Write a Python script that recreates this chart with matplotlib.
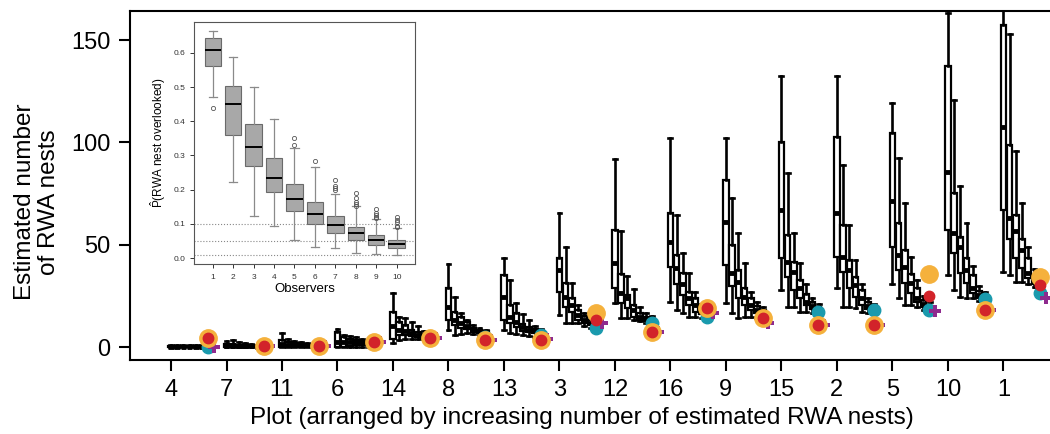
import matplotlib
matplotlib.use("Agg")
import matplotlib.pyplot as plt

plt.rcParams['font.family'] = ['Liberation Sans', 'DejaVu Sans']
plt.rcParams['mathtext.fontset'] = 'custom'
plt.rcParams['mathtext.rm'] = 'Liberation Sans'
plt.rcParams['mathtext.it'] = 'Liberation Sans'

# plots, ordered by increasing number of estimated nests
plot_labels = ['4', '7', '11', '6', '14', '8', '13', '3', '12', '16', '9', '15', '2', '5', '10', '1']

# box statistics for 1..7 observers per plot
box_lo = [
    [0, 0, 0, 0, 0, 0, 0],
    [0, 0, 0, 0, 0, 0, 0],
    [0, 0, 0, 0, 0, 0, 0],
    [0, 0, 0, 0, 0, 0, 0],
    [2, 3.4, 4, 4, 4, 4, 4],
    [8.3, 5.9, 6.3, 6.8, 6.5, 6, 5.5],
    [8.3, 6.8, 6.3, 6, 5.5, 5, 4.5],
    [15.6, 11.6, 11.6, 11.6, 10.5, 9.5, 9],
    [21.3, 14, 14, 13.2, 12.5, 11.5, 11],
    [22, 18, 16.6, 14.8, 14.8, 14, 13.5],
    [21.3, 16.4, 14, 14.8, 14.8, 14, 13.5],
    [27.8, 19.7, 19.7, 17.3, 17.3, 16.5, 16],
    [28.7, 19.7, 19.7, 18.9, 17.3, 16.5, 16],
    [31, 23.8, 20.5, 20.5, 19.7, 18, 17],
    [35.2, 27.8, 24.6, 23.8, 23.8, 22.5, 21.5],
    [36.8, 35.2, 31.9, 31.9, 31, 29.5, 28.5],
]
box_q1 = [
    [0, 0, 0, 0, 0, 0, 0],
    [0, 0, 0, 0, 0, 0, 0],
    [0, 0, 0, 0, 0, 0, 0],
    [0, 0.2, 0.5, 0.8, 1, 1, 1],
    [3.8, 5.9, 5.9, 5.4, 4.8, 4.5, 4.3],
    [13.2, 10.7, 9.1, 9, 7.5, 7, 6.5],
    [13.2, 11.6, 9.9, 8, 7.5, 7, 6],
    [27, 19.7, 17.3, 13.2, 11.5, 10.8, 10],
    [28.7, 21.6, 18.9, 14.8, 13.2, 12.5, 12],
    [39.3, 31, 25.4, 20.5, 17, 16, 15],
    [40, 30, 23.8, 20.5, 18, 16.5, 15.5],
    [43.3, 34.3, 27.8, 23.8, 20.5, 18.5, 17.5],
    [44.1, 36.8, 28.7, 24.6, 20.5, 18.5, 17.5],
    [48.7, 37.6, 31.1, 26.2, 22, 19.5, 18],
    [57.2, 45.7, 36, 31.1, 26.2, 24, 23],
    [67, 53, 43.3, 38.4, 33.6, 31, 30],
]
box_med = [
    [0.2, 0.2, 0.2, 0.2, 0.2, 0.2, 0.2],
    [0.5, 0.5, 0.5, 0.3, 0.3, 0.2, 0.2],
    [1.3, 1, 1, 1, 0.8, 0.5, 0.5],
    [2.6, 2.6, 2.5, 2.3, 2, 2, 2],
    [10.3, 8.3, 7.8, 7, 6, 5.5, 5],
    [19.7, 13.2, 11.6, 10.4, 8.3, 7.8, 7],
    [24.6, 14.8, 12.4, 10, 8.5, 7.8, 7],
    [37.6, 24.6, 20.5, 15.6, 13, 11.8, 11],
    [40.9, 26.2, 23.8, 18, 14.8, 13.5, 12.8],
    [51.4, 38.6, 31, 23.8, 20.5, 17.5, 16],
    [61.2, 36.3, 32, 24.6, 20.5, 18, 16.5],
    [67, 41.7, 36.8, 29, 22, 20, 18.5],
    [65.3, 44, 37.6, 30.3, 23.8, 20, 18.5],
    [71.5, 45, 39.2, 31.1, 23.8, 21, 19],
    [85.6, 55.8, 49, 37.6, 28.7, 25.5, 24],
    [107.6, 62.9, 56.8, 47.4, 36, 32.5, 31],
]
box_q3 = [
    [0.5, 0.5, 0.5, 0.5, 0.5, 0.5, 0.5],
    [1.5, 1.5, 1, 1, 0.8, 0.5, 0.5],
    [3.4, 2.5, 2, 1.8, 1.5, 1.2, 1],
    [7.5, 4.7, 3.8, 3.4, 3, 2.8, 2.6],
    [17.3, 12.4, 10.7, 8.3, 7.3, 6.5, 6],
    [28.7, 17.3, 14.8, 12, 9.5, 8.5, 7.8],
    [35.2, 20.5, 16.4, 11, 10, 8.8, 8],
    [43.3, 31.1, 23.8, 18, 15, 13, 12],
    [57.2, 35.6, 25.4, 20.5, 16.4, 14.5, 13.5],
    [65.5, 45, 36.3, 27, 24, 19, 17],
    [81.6, 50, 37.6, 28.8, 24, 20, 18],
    [100.3, 54.7, 41.7, 32.7, 26, 22, 19.5],
    [102.7, 59.6, 42.5, 34.3, 27.8, 22, 19.5],
    [104.4, 60.4, 47.4, 35.6, 28.7, 23, 20],
    [137.5, 75.4, 53.9, 43.3, 35.2, 27.5, 25],
    [157.3, 98.7, 64.5, 53, 43.3, 35, 32],
]
box_hi = [
    [1, 1, 1, 1, 1, 1, 1],
    [3, 3.5, 2.5, 2, 1.5, 1, 1],
    [6.7, 3.8, 3, 2.5, 2, 1.5, 1.2],
    [8.8, 5.9, 5.2, 4.7, 4, 3.5, 3],
    [26.2, 14.8, 14, 12.4, 10.3, 8, 7],
    [40.5, 24.6, 16.4, 13.2, 10.7, 9.5, 8.5],
    [43.3, 32.7, 21.3, 16, 13, 10.5, 9],
    [65.6, 49, 31.1, 20.5, 16.6, 14.5, 13],
    [91.7, 56.8, 34.7, 28.2, 19.7, 16.5, 15],
    [102, 64.5, 45.7, 36, 27, 21, 18.5],
    [102, 73, 55.5, 41, 27, 22, 19.5],
    [132.4, 84.8, 55.5, 41.2, 31, 24, 21],
    [132.4, 89, 59.6, 42.5, 31, 24, 21],
    [119, 92.2, 70.2, 44, 32.7, 25, 22],
    [163, 120.7, 78.8, 60.4, 39.6, 30, 27],
    [175, 153, 95.9, 70.5, 48.7, 38, 34],
]

# other estimates per plot
est_orange = [4.4, 0.5, 0.3, 2.6, 4.2, 3.5, 3.4, 16.4, 7.5, 19, 14, 10.7, 10.7, 35.6, 18, 34.3]
est_red = [4.4, 0.5, 0.3, 2.6, 4.2, 3.5, 3.4, 13.2, 7.5, 19, 14, 10.7, 10.7, 24.9, 18, 30.3]
est_teal = [0, 0.5, 0.3, 2.6, 4.2, 5, 6, 9.1, 11.6, 14.8, 14, 17.3, 18, 18, 23.5, 26.2]
est_plus = [0, 0.5, 0.3, 2.6, 4.2, 3.5, 3.8, 11.9, 7.5, 16.6, 11.5, 10.7, 10.7, 17.7, 18, 23.8]

# inset: P(nest overlooked) by number of observers
obs = [1, 2, 3, 4, 5, 6, 7, 8, 9, 10]
p_lo = [0.47, 0.224, 0.122, 0.094, 0.054, 0.032, 0.029, 0.015, 0.012, 0.01]
p_q1 = [0.562, 0.36, 0.27, 0.192, 0.139, 0.099, 0.075, 0.054, 0.039, 0.031]
p_med = [0.608, 0.449, 0.324, 0.233, 0.173, 0.129, 0.097, 0.073, 0.054, 0.041]
p_q3 = [0.642, 0.503, 0.391, 0.292, 0.216, 0.165, 0.122, 0.092, 0.068, 0.054]
p_hi = [0.664, 0.588, 0.50, 0.408, 0.323, 0.265, 0.187, 0.151, 0.114, 0.088]
p_fliers = [[0.44], [], [], [], [0.352, 0.332], [0.285],
            [0.228, 0.212, 0.205, 0.20], [0.19, 0.175, 0.165, 0.157, 0.152],
            [0.145, 0.132, 0.125, 0.12, 0.117], [0.12, 0.112, 0.105, 0.095, 0.09]]

fig = plt.figure(figsize=(10.5, 4.34), dpi=100)
ax = fig.add_axes([130 / 1050, 1 - 360 / 434, 920 / 1050, 349 / 434])

step = 0.112
for g in range(len(plot_labels)):
    stats = []
    for j in range(len(box_med[g])):
        stats.append(dict(whislo=box_lo[g][j], q1=box_q1[g][j], med=box_med[g][j],
                          q3=box_q3[g][j], whishi=box_hi[g][j], fliers=[]))
    pos = [g + j * step for j in range(len(stats))]
    ax.bxp(stats, positions=pos, widths=0.1, patch_artist=True, showfliers=False,
           manage_ticks=False,
           boxprops=dict(facecolor='white', edgecolor='black', linewidth=1.6),
           whiskerprops=dict(color='black', linewidth=1.9),
           capprops=dict(color='black', linewidth=1.9),
           capwidths=0.07,
           medianprops=dict(color='black', linewidth=3.5, solid_capstyle='butt'))

xs = [g + 0.667 for g in range(len(plot_labels))]
ax.plot(xs, est_teal, 'o', color='#1a9aad', markersize=9, zorder=5)
ax.plot([x + 0.1 for x in xs], est_plus, 'P', color='#8e2a8e', markersize=9,
        markeredgewidth=0, zorder=6)
ax.plot(xs, est_orange, 'o', color='#f5b13c', markersize=12.5, zorder=7)
ax.plot(xs, est_red, 'o', color='#d2232a', markersize=7.5, zorder=8)

ax.set_xlim(-0.739, 15.84)
ax.set_ylim(-6.35, 164.2)
ax.set_xticks(range(len(plot_labels)))
ax.set_xticklabels(plot_labels)
ax.set_yticks([0, 50, 100, 150])
ax.tick_params(axis='both', direction='out', length=8, width=1.5, labelsize=17, pad=6)
ax.spines['right'].set_visible(False)
for s in ['left', 'bottom', 'top']:
    ax.spines[s].set_linewidth(1.5)

fig.text(37 / 1050, 1 - 202 / 434, 'Estimated number\nof RWA nests', rotation=90,
         ha='center', va='center', multialignment='center', fontsize=17.5, linespacing=1.15)
fig.text(582 / 1050, 1 - 418 / 434, 'Plot (arranged by increasing number of estimated RWA nests)',
         ha='center', va='center', fontsize=17.5)

# inset
axi = fig.add_axes([194 / 1050, 1 - 264 / 434, 221 / 1050, 242 / 434])
istats = []
for k in range(len(obs)):
    istats.append(dict(whislo=p_lo[k], q1=p_q1[k], med=p_med[k], q3=p_q3[k],
                       whishi=p_hi[k], fliers=p_fliers[k]))
axi.bxp(istats, positions=obs, widths=0.8, patch_artist=True, showfliers=True,
        boxprops=dict(facecolor='#a8a8a8', edgecolor='#6a6a6a', linewidth=0.8),
        whiskerprops=dict(color='#8a8a8a', linewidth=0.9),
        capprops=dict(color='#8a8a8a', linewidth=0.9),
        capwidths=0.4,
        medianprops=dict(color='black', linewidth=1.4),
        flierprops=dict(marker='o', markersize=3, markerfacecolor='none',
                        markeredgecolor='#555555', markeredgewidth=0.6))
for h in [0.1, 0.05, 0.01]:
    axi.axhline(h, color='#888888', linestyle=':', linewidth=0.8, zorder=0)
axi.set_xlim(0.08, 10.9)
axi.set_ylim(-0.017, 0.69)
axi.set_xticks(obs)
axi.set_yticks([0.0, 0.1, 0.2, 0.3, 0.4, 0.5, 0.6])
axi.set_yticklabels(['0.0', '0.1', '0.2', '0.3', '0.4', '0.5', '0.6'])
axi.tick_params(axis='both', direction='out', length=3, width=0.7, labelsize=6,
                colors='#333333', pad=3)
axi.tick_params(axis='x', pad=4)
for s in axi.spines.values():
    s.set_linewidth(0.8)
    s.set_color('#555555')
axi.set_xlabel('Observers', fontsize=9.5, labelpad=2)
axi.set_ylabel(r'$\hat{\mathrm{P}}$(RWA nest overlooked)', fontsize=8.5, labelpad=4)

fig.savefig('out.png', dpi=100)
